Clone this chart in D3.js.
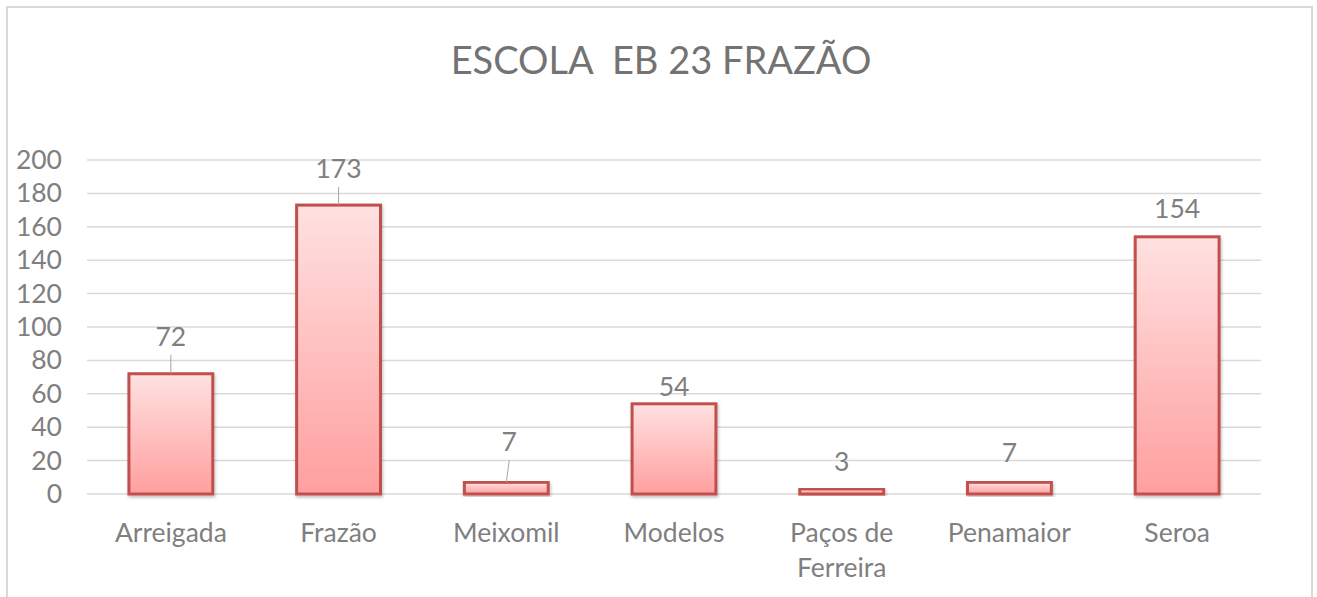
<!DOCTYPE html>
<html><head><meta charset="utf-8">
<script src="https://cdn.jsdelivr.net/npm/d3@7"></script>
<style>
body{margin:0;background:#fff;}
text{font-family:Lato,"Open Sans",sans-serif;}
</style></head>
<body>
<svg id="c" width="1317" height="597"></svg>
<script>
// ---- data ----
const title = "ESCOLA  EB 23 FRAZÃO";
const categories = ["Arreigada","Frazão","Meixomil","Modelos","Paços de\nFerreira","Penamaior","Seroa"];
const values = [72,173,7,54,3,7,154];
const yTicks = [0,20,40,60,80,100,120,140,160,180,200];

// ---- layout (pixels, not data) ----
const labelLift = [38,37,41,18,28,30,29];
const labelDx = [0,0,3,0,0,0,0];
const hasLeader = [true,true,true,false,false,false,false];
const textColor = "#7f7f7f";
const fs = "26.5px";

const svg = d3.select("#c");
const m = {left:87, right:1261, top:160, bottom:494};

svg.append("rect").attr("x",7).attr("y",7).attr("width",1305).attr("height",600)
  .attr("fill","#fff").attr("stroke","#d9d9d9").attr("stroke-width",2);

const defs = svg.append("defs");
const g = defs.append("linearGradient").attr("id","bg").attr("x1",0).attr("y1",0).attr("x2",0).attr("y2",1);
g.append("stop").attr("offset","0%").attr("stop-color","#ffe1e1");
g.append("stop").attr("offset","100%").attr("stop-color","#ff9f9f");
const f = defs.append("filter").attr("id","sh").attr("x","-10%").attr("y","-10%").attr("width","130%").attr("height","130%");
f.append("feDropShadow").attr("dx",1).attr("dy",2).attr("stdDeviation",1.5).attr("flood-color","#000").attr("flood-opacity",0.25);

const x = d3.scaleBand().domain(categories).range([m.left,m.right]).paddingInner(0.5).paddingOuter(0.25);
const y = d3.scaleLinear().domain([0,200]).range([m.bottom,m.top]);

// gridlines
svg.append("g").selectAll("line").data(yTicks).join("line")
  .attr("x1",m.left).attr("x2",m.right)
  .attr("y1",d=>y(d)).attr("y2",d=>y(d))
  .attr("stroke","#d9d9d9").attr("stroke-width",1.5);

// y axis labels
const ya = d3.axisLeft(y).tickValues(yTicks).tickSize(0).tickPadding(0);
const yg = svg.append("g").attr("transform",`translate(62,0)`).call(ya);
yg.select(".domain").remove();
yg.selectAll("text").style("font-size",fs).style("fill",textColor).style("font-family","Lato");

// bars
const data = categories.map((c,i)=>({c,v:values[i],i}));
svg.append("g").selectAll("rect").data(data).join("rect")
  .attr("x",d=>x(d.c)).attr("width",x.bandwidth())
  .attr("y",d=>y(d.v)).attr("height",d=>y(0)-y(d.v))
  .attr("fill","url(#bg)").attr("stroke","#c0504d").attr("stroke-width",3)
  .attr("filter","url(#sh)");

// data labels
const lab = svg.append("g");
data.forEach(d=>{
  const cx = x(d.c)+x.bandwidth()/2;
  const top = y(d.v);
  const ly = top - labelLift[d.i];
  const lx = cx + labelDx[d.i];
  lab.append("text").attr("x",lx).attr("y",ly).attr("text-anchor","middle")
    .attr("dominant-baseline","central").style("font-size",fs).style("fill",textColor).text(d.v);
  if(hasLeader[d.i]){
    lab.append("line").attr("x1",lx).attr("x2",cx).attr("y1",ly+19).attr("y2",top)
      .attr("stroke","#a6a6a6").attr("stroke-width",1);
  }
});

// x labels
const xa = svg.append("g");
data.forEach(d=>{
  const cx = x(d.c)+x.bandwidth()/2;
  d.c.split("\n").forEach((t,k)=>{
    xa.append("text").attr("x",cx).attr("y",532+k*35).attr("text-anchor","middle")
      .attr("dominant-baseline","central").style("font-size",fs).style("fill",textColor).text(t);
  });
});

// title
svg.append("text").attr("x",661).attr("y",59).attr("text-anchor","middle")
  .attr("dominant-baseline","central").style("font-size","38px").style("fill","#737373")
  .style("white-space","pre").text(title);
</script>
</body></html>
